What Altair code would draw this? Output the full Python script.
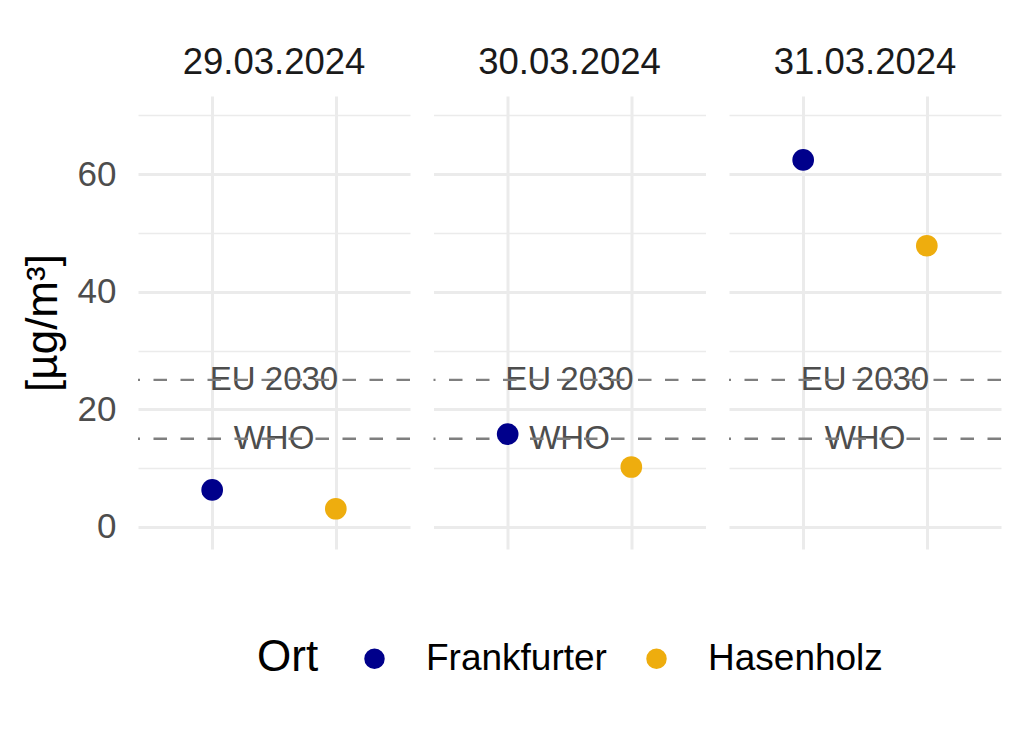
import altair as alt
import pandas as pd

dates = ["29.03.2024", "30.03.2024", "31.03.2024"]
orte = ["Frankfurter", "Hasenholz"]
frankfurter = [6.3, 15.8, 62.4]
hasenholz = [3.1, 10.2, 47.8]
line_labels = ["EU 2030", "WHO"]
line_values = [25, 15]
colors = ["#00008B", "#EEAD0E"]
y_ticks = [0, 10, 20, 30, 40, 50, 60, 70]

rows = []
for d, f, h in zip(dates, frankfurter, hasenholz):
    rows.append({"Datum": d, "Ort": "Frankfurter", "Wert": f, "Typ": "p"})
    rows.append({"Datum": d, "Ort": "Hasenholz", "Wert": h, "Typ": "p"})
    for lab, v in zip(line_labels, line_values):
        rows.append({"Datum": d, "Ort": None, "Label": lab, "Wert": v, "Typ": "l"})
df = pd.DataFrame(rows)

W, H = 272, 453
FONT = "Liberation Sans"

yscale = alt.Scale(domain=[-3.74, 73.26], nice=False, zero=False)
yaxis = alt.Axis(
    values=y_ticks,
    labelExpr="datum.value % 20 === 0 ? datum.label : ''",
    ticks=False, domain=False,
    labelFontSize=35, labelColor="#4D4D4D", labelFont=FONT, labelPadding=20,
    title="[µg/m³]", titleFontSize=44, titleFont=FONT, titleFontWeight="normal",
    titleColor="#000000", titlePadding=12,
    gridColor="#EBEBEB",
    gridWidth={"condition": {"test": "datum.value % 20 === 0", "value": 3}, "value": 1.5},
)

base = alt.Chart(df)

points = base.transform_filter("datum.Typ === 'p'").mark_circle(size=470, opacity=1).encode(
    x=alt.X("Ort:N", scale=alt.Scale(type="point", padding=0.6, domain=orte),
            axis=alt.Axis(labels=False, ticks=False, domain=False, title=None,
                          grid=True, gridColor="#EBEBEB", gridWidth=3)),
    y=alt.Y("Wert:Q", scale=yscale, axis=yaxis),
    color=alt.Color("Ort:N", scale=alt.Scale(domain=orte, range=colors),
                    legend=alt.Legend(title="Ort", orient="none", direction="horizontal",
                                      titleOrient="left", legendX=119, legendY=544,
                                      titleFontSize=44, titleFont=FONT, titleFontWeight="normal",
                                      titleColor="#000000", titlePadding=37,
                                      labelFontSize=37, labelFont=FONT, labelColor="#000000",
                                      labelOffset=33, columnPadding=31, labelLimit=0,
                                      symbolType="circle", symbolSize=420,
                                      symbolStrokeWidth=0)),
)

rules = base.transform_filter("datum.Typ === 'l'").mark_rule(
    color="#7F7F7F", strokeWidth=2.4, strokeDash=[13.5, 13.5]
).encode(y=alt.Y("Wert:Q", scale=yscale))

texts = base.transform_filter("datum.Typ === 'l'").mark_text(
    fontSize=33, font=FONT, color="#4D4D4D", baseline="middle", align="center"
).encode(x=alt.value(W / 2), y=alt.Y("Wert:Q", scale=yscale), text="Label:N")

layer = alt.layer(texts, rules, points).properties(width=W, height=H)

chart = layer.facet(
    column=alt.Column("Datum:N", sort=dates,
                      header=alt.Header(title=None, labelFontSize=36.5, labelFont=FONT,
                                        labelColor="#1A1A1A", labelPadding=15)),
    spacing=19.5,
).properties(padding={"left": 13, "top": 36, "right": 5, "bottom": 5}
).configure(font=FONT).configure_view(stroke=None, strokeWidth=0)

chart.save("out.html", embed_options={"renderer": "svg", "actions": False})
